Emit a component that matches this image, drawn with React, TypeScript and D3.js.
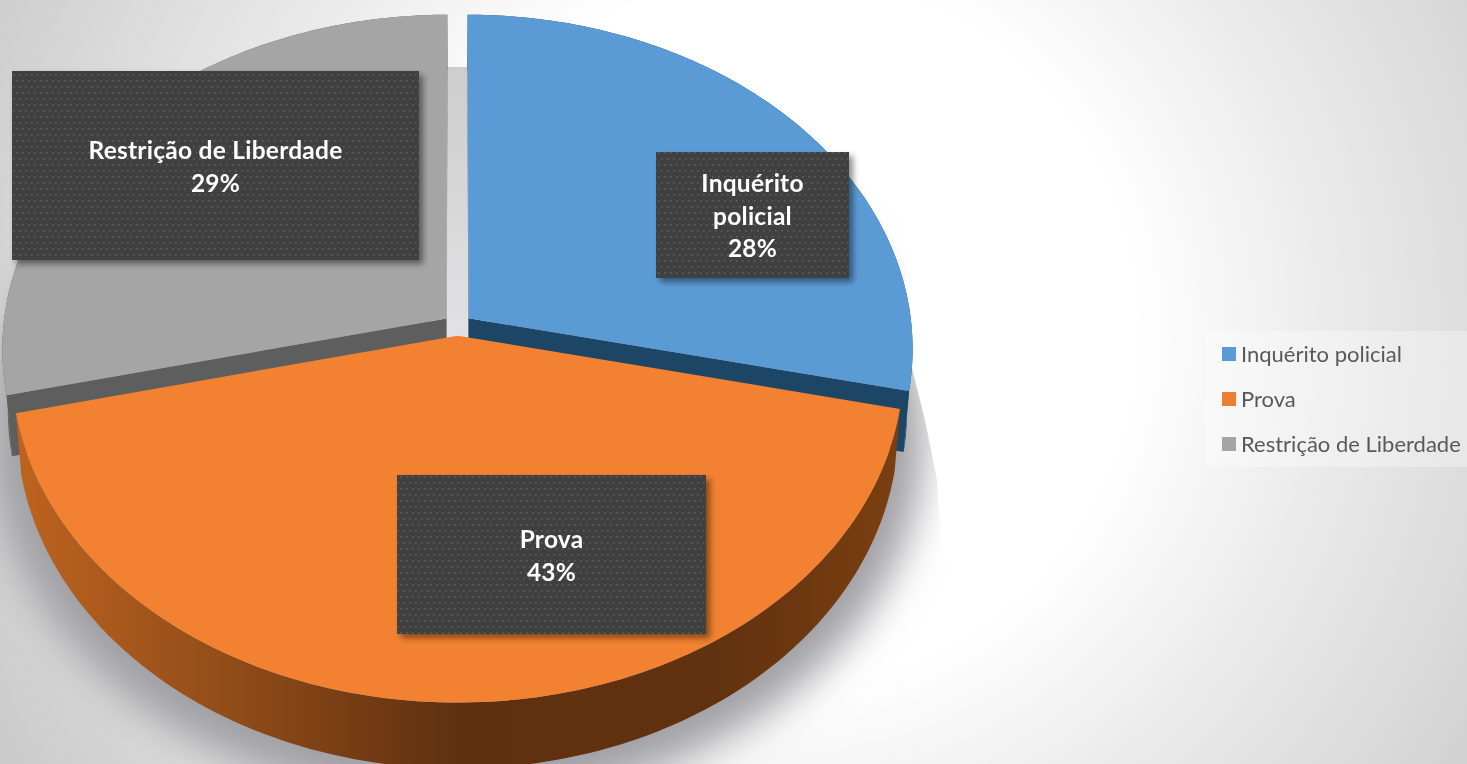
import React from "react";
import * as d3 from "d3";

const categories = ["Inquérito policial", "Prova", "Restrição de Liberdade"];
const labelLines = [["Inquérito", "policial"], ["Prova"], ["Restrição de Liberdade"]];
const values = [28.45, 42.9, 28.65];
const faceColors = ["#5b9bd5", "#f28231", "#a5a5a5"];
const legendColors = ["#5b9bd5", "#ed7d31", "#a5a5a5"];
const sideColors = ["#1d4566", "url(#wallOrange)", "#5e5e5e"];
const labelBoxes = [
  { x: 656, y: 152, w: 193, h: 126, firstLine: 184 },
  { x: 397, y: 475, w: 309, h: 159, firstLine: 540 },
  { x: 12, y: 71, w: 407, h: 189, firstLine: 151 },
];
const shadowClip: [number, number][] = [
  [0, 67], [905, 67], [905, 340], [925, 420], [937, 480], [941, 540], [1000, 764], [0, 764],
];

const W = 1467, H = 764;
const CX = 457.5, CY = 325, RX = 443, RY = 332, K = 0.0896, EXPLODE = 0.032, DEPTH = 60, TAPER = 0.012;

type P = [number, number];
const project = (theta: number, r: number, beta: number, drop = 0): P => {
  const u = r * Math.sin(theta) + EXPLODE * Math.sin(beta);
  const v = -r * Math.cos(theta) - EXPLODE * Math.cos(beta);
  const s = 1 / (1 - K * v);
  const t = 1 - (TAPER * drop) / DEPTH;
  return [CX + RX * u * s * t, CY + RY * v * s + drop * s];
};

const line = d3.line<P>().curve(d3.curveLinear);
const pct = d3.format(".0%");
const total = d3.sum(values);

export default function App() {
  const pie = d3.pie<number>().sort(null)(values);
  const slices = pie.map((a) => {
    const beta = (a.startAngle + a.endAngle) / 2;
    const angles = d3.range(0, 121).map((i) => a.startAngle + ((a.endAngle - a.startAngle) * i) / 120);
    const rim = angles.map((t) => project(t, 1, beta));
    const rimLow = angles.map((t) => project(t, 1, beta, DEPTH));
    const apex = project(0, 0, beta);
    const apexLow = project(0, 0, beta, DEPTH);
    const face = line([apex, ...rim])! + "Z";
    const outer = line([...rim, ...rimLow.slice().reverse()])! + "Z";
    const s0 = line([apex, rim[0], rimLow[0], apexLow])! + "Z";
    const s1 = line([apex, rim[120], rimLow[120], apexLow])! + "Z";
    return { face, outer, s0, s1 };
  });
  const shadowOutline =
    line(d3.range(0, 181).map((i) => project((i / 180) * 2 * Math.PI, 1.06, Math.PI, DEPTH + 8)))! + "Z";

  const wall = (i: number) => (
    <g fill={sideColors[i]}>
      <path d={slices[i].outer} />
      {i !== 1 && <path d={slices[i].s0} />}
      {i !== 1 && <path d={slices[i].s1} />}
    </g>
  );

  return (
    <svg width={W} height={H} viewBox={`0 0 ${W} ${H}`} style={{ position: "fixed", left: 0, top: 0 }}>
      <defs>
        <radialGradient id="bg" gradientUnits="userSpaceOnUse" cx={780} cy={330} r={880}>
          <stop offset="0" stopColor="#ffffff" />
          <stop offset="0.4" stopColor="#ffffff" />
          <stop offset="0.62" stopColor="#ebebeb" />
          <stop offset="1" stopColor="#cbcbcb" />
        </radialGradient>
        <linearGradient id="gapFill" x1={0} x2={0} y1={0} y2={1}>
          <stop offset="0" stopColor="#cdcdcd" />
          <stop offset="1" stopColor="#e2e2e4" />
        </linearGradient>
        <linearGradient id="wallOrange" gradientUnits="userSpaceOnUse" x1={18} x2={900} y1={0} y2={0}>
          <stop offset="0" stopColor="#bd631f" />
          <stop offset="0.25" stopColor="#8f4b18" />
          <stop offset="0.5" stopColor="#5f3010" />
          <stop offset="0.8" stopColor="#62320f" />
          <stop offset="1" stopColor="#7c3f10" />
        </linearGradient>
        <pattern id="dots" width={12} height={12} patternUnits="userSpaceOnUse">
          <rect width={12} height={12} fill="#3f3f3f" />
          <rect x={1} y={2} width={1.6} height={1.6} fill="#5e5e5e" />
          <rect x={7} y={2} width={1.6} height={1.6} fill="#5e5e5e" />
          <rect x={4} y={8} width={1.6} height={1.6} fill="#5e5e5e" />
          <rect x={10} y={8} width={1.6} height={1.6} fill="#5e5e5e" />
        </pattern>
        <filter id="boxShadow" x="-10%" y="-10%" width="125%" height="125%">
          <feDropShadow dx={4} dy={4} stdDeviation={3} floodColor="#000" floodOpacity={0.45} />
        </filter>
        <filter id="soft" x="-15%" y="-15%" width="130%" height="130%">
          <feGaussianBlur stdDeviation={20} />
        </filter>
        <clipPath id="shadowClip">
          <path d={line(shadowClip)! + "Z"} />
        </clipPath>
      </defs>

      <rect width={W} height={H} fill="url(#bg)" />
      <g clipPath="url(#shadowClip)">
        <path d={shadowOutline} fill="#a0a0a4" filter="url(#soft)" />
      </g>
      <rect x={430} y={67} width={60} height={275} fill="url(#gapFill)" />

      <rect x={1205} y={331} width={262} height={136} fill="#ffffff" opacity={0.32} />

      {wall(2)}
      {wall(0)}
      <path d={slices[2].face} fill={faceColors[2]} />
      <path d={slices[0].face} fill={faceColors[0]} />
      {wall(1)}
      <path d={slices[1].face} fill={faceColors[1]} />

      {labelBoxes.map((b, i) => (
        <g key={categories[i]}>
          <rect x={b.x} y={b.y} width={b.w} height={b.h} fill="url(#dots)" filter="url(#boxShadow)" />
          <text textAnchor="middle" fontFamily="Lato, 'Open Sans', sans-serif" fontWeight={700} fontSize={24.5} letterSpacing={0.25} fill="#ffffff">
            {[...labelLines[i], pct(values[i] / total)].map((t, j) => (
              <tspan key={j} x={b.x + b.w / 2} y={b.firstLine + 8 + j * 32.5}>{t}</tspan>
            ))}
          </text>
        </g>
      ))}

      {categories.map((c, i) => (
        <g key={c} transform={`translate(1222,${347 + i * 45})`}>
          <rect width={14} height={14} fill={legendColors[i]} />
          <text x={19} y={14.5} fontFamily="Lato, 'Open Sans', sans-serif" fontSize={22} fill="#595959">{c}</text>
        </g>
      ))}
    </svg>
  );
}
